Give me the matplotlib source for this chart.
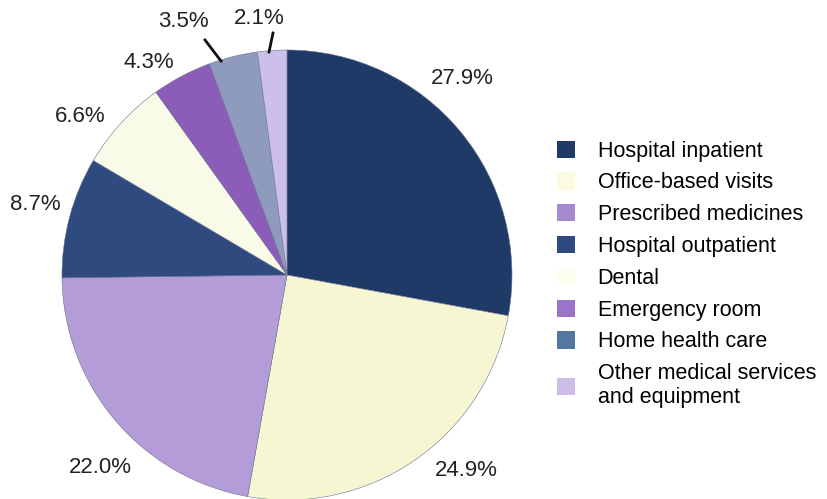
import matplotlib.pyplot as plt
from matplotlib.patches import Patch

# health spending shares
categories = ['Hospital inpatient', 'Office-based visits', 'Prescribed medicines',
              'Hospital outpatient', 'Dental', 'Emergency room', 'Home health care',
              'Other medical services\nand equipment']
shares = [27.9, 24.9, 22.0, 8.7, 6.6, 4.3, 3.5, 2.1]
colors = ['#1f3a66', '#f7f6d2', '#b39cd8', '#2f4a7e', '#fafae8', '#8c5cb9', '#8e9bbd', '#ccbfea']
legend_colors = ['#1f3a66', '#fbfbe0', '#a58ad0', '#2f4a7e', '#fdfdf0', '#9a74c8', '#5576a0', '#cbbde8']

# label positions in pixels of the 828x499 image
label_px = [(462, 78), (466, 470), (100, 468), (35, 205), (80, 116), (149, 62), (183, 21), (259, 18)]
leaders = {6: ((205, 40), (221, 61)), 7: ((273, 33), (269, 52))}

plt.rcParams['font.family'] = ['Liberation Sans', 'DejaVu Sans']
fig = plt.figure(figsize=(8.28, 4.99), dpi=100)
cx, cy, r = 287, 275, 225
ax = fig.add_axes([(cx - r) / 828, (499 - cy - r) / 499, 2 * r / 828, 2 * r / 499])
wedges, _ = ax.pie(shares, colors=colors, startangle=90, counterclock=False,
                   wedgeprops=dict(edgecolor='#6a7494', linewidth=0.4))
ax.set_xlim(-1, 1)
ax.set_ylim(-1, 1)
ax.set_aspect('equal')
ax.axis('off')

def to_data(p):
    return ((p[0] - cx) / r, (cy - p[1]) / r)

for i, s in enumerate(shares):
    x, y = to_data(label_px[i])
    ax.text(x, y, '{:.1f}%'.format(s), ha='center', va='center', fontsize=16,
            color='#222222', clip_on=False)
for i, (a, b) in leaders.items():
    a, b = to_data(a), to_data(b)
    ax.plot([a[0], b[0]], [a[1], b[1]], color='#111111', lw=2, clip_on=False)

handles = [Patch(facecolor=c, edgecolor='none') for c in legend_colors]
fig.legend(handles, categories, loc='upper left', bbox_to_anchor=(548 / 828, 1 - 132 / 499),
           frameon=False, fontsize=15.5, handlelength=0.85, handleheight=0.85,
           handletextpad=1.05, labelspacing=0.5, borderaxespad=0)

fig.savefig('out.png', dpi=100)
